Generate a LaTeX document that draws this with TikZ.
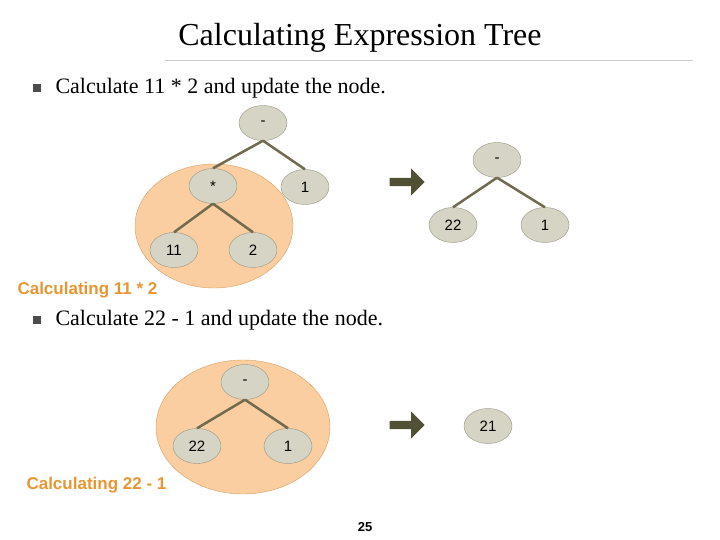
\documentclass[tikz,border=0pt]{standalone}
\usepackage{fontspec}
\setmainfont{Liberation Serif}
\setsansfont{Liberation Sans}
\usetikzlibrary{shapes.geometric,shapes.arrows}
\definecolor{nodegray}{RGB}{214,212,196}
\definecolor{nodeline}{RGB}{150,148,130}
\definecolor{edgecol}{RGB}{112,106,78}
\definecolor{blobfill}{RGB}{250,206,160}
\definecolor{blobline}{RGB}{214,160,100}
\definecolor{arrowcol}{RGB}{80,80,52}
\definecolor{labelcol}{RGB}{232,150,50}
\begin{document}
\begin{tikzpicture}[x=1pt,y=-1pt]
    \tikzstyle{tnode} = [shape=ellipse, draw=nodeline, fill=nodegray, minimum width=48pt, minimum height=35pt, inner sep=0pt, font=\sffamily\fontsize{15}{17}\selectfont]
    \tikzstyle{tedge} = [draw=edgecol, line width=2.5pt]
    \tikzstyle{blob} = [shape=ellipse, draw=blobline, fill=blobfill]
    \tikzstyle{bigarrow} = [shape=single arrow, fill=arrowcol, minimum height=35pt, minimum width=27pt, single arrow head extend=7pt, single arrow head indent=0pt, inner sep=3pt]
    \tikzstyle{steplabel} = [text=labelcol, font=\sffamily\bfseries\fontsize{17}{20}\selectfont, anchor=west]
    \tikzstyle{bullettext} = [font=\fontsize{22}{26}\selectfont, anchor=west]
    \useasboundingbox (0,0) rectangle (720,540);

    % title
    \node (title) at (360,38) {\fontsize{32}{38}\selectfont Calculating Expression Tree};
    \draw[gray!40] (165,60) -- (693,60);

    % first step
    \node (b1) [bullettext] at (52,88) {Calculate 11 * 2 and update the node.};
    \fill[gray!60!black] (33,84) rectangle (41,92);
    \node (blob1) [blob, minimum width=158pt, minimum height=124pt] at (214,226) {};
    \node (m1) [tnode] at (263,123) {-};
    \node (t1) [tnode] at (213,186) {*};
    \node (o1) [tnode] at (305,187) {1};
    \node (e1) [tnode] at (174,250) {11};
    \node (w1) [tnode] at (253,250) {2};
    \draw[tedge] (m1.south) -- (t1.north);
    \draw[tedge] (m1.south) -- (o1.north);
    \draw[tedge] (t1.south) -- (e1.north);
    \draw[tedge] (t1.south) -- (w1.north);
    \node (l1) [steplabel] at (14,290) {Calculating 11 * 2};
    \node (a1) [bigarrow] at (405,182) {};
    \node (m2) [tnode] at (497,160) {-};
    \node (v2) [tnode] at (453,225) {22};
    \node (o2) [tnode] at (545,225) {1};
    \draw[tedge] (m2.south) -- (v2.north);
    \draw[tedge] (m2.south) -- (o2.north);

    % second step
    \node (b2) [bullettext] at (52,320) {Calculate 22 - 1 and update the node.};
    \fill[gray!60!black] (33,316) rectangle (41,324);
    \node (blob2) [blob, minimum width=174pt, minimum height=134pt] at (243,427) {};
    \node (m3) [tnode] at (245,382) {-};
    \node (v3) [tnode] at (197,446) {22};
    \node (o3) [tnode] at (288,446) {1};
    \draw[tedge] (m3.south) -- (v3.north);
    \draw[tedge] (m3.south) -- (o3.north);
    \node (l2) [steplabel] at (23,485) {Calculating 22 - 1};
    \node (a2) [bigarrow] at (405,425) {};
    \node (r3) [tnode] at (488,426) {21};

    \node (page) at (365,527) {\sffamily\bfseries\fontsize{13}{15}\selectfont 25};
\end{tikzpicture}
\end{document}
